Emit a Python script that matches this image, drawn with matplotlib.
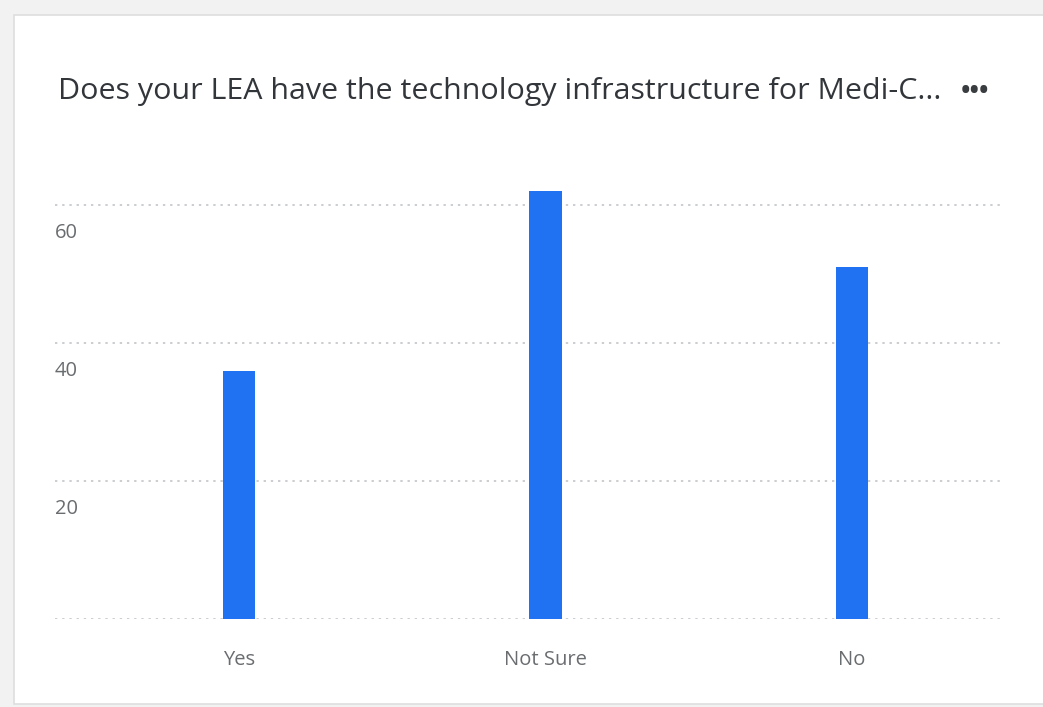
import matplotlib.pyplot as plt
from matplotlib.patches import Rectangle

# data
categories = ["Yes", "Not Sure", "No"]
counts = [36, 62, 51]
y_ticks = [20, 40, 60]
title = "Does your LEA have the technology infrastructure for Medi-C..."

W, H = 1043, 707
plt.rcParams['font.family'] = ['Open Sans', 'DejaVu Sans']

fig = plt.figure(figsize=(W / 100, H / 100), dpi=100)
fig.patch.set_facecolor("#f2f2f2")

# white card with thin border (drawn below the axes)
card = Rectangle((14 / W, 3 / H), 1.0, 1 - 18 / H, transform=fig.transFigure,
                 facecolor="white", edgecolor="#dedede", linewidth=1.2, zorder=-5)
fig.patches.append(card)

px_per_unit = 6.9
ymax = 66
ax_left, ax_right = 55 / W, 1000 / W
ax_bottom = 1 - 619 / H
ax_h = ymax * px_per_unit / H
ax = fig.add_axes([ax_left, ax_bottom, ax_right - ax_left, ax_h])
ax.set_facecolor("none")

x = list(range(len(categories)))
ax.bar(x, counts, width=0.105, color="#2072f3", zorder=3)

ax.set_xlim(-0.600, 2.483)
ax.set_ylim(0, ymax)

# dotted gridlines incl. baseline
for v in [0] + y_ticks:
    ax.axhline(v, color="#cbcdd0", linewidth=1.4, linestyle=(0, (1.2, 2.5)), zorder=1)

for s in ax.spines.values():
    s.set_visible(False)
ax.set_yticks([])
ax.set_xticks(x)
ax.set_xticklabels(categories, fontsize=14.5, color="#6a6d70")
ax.tick_params(axis="x", length=0, pad=22)

# y labels sit just under their gridline
for v in y_ticks:
    ax.annotate(str(v), xy=(0, v), xycoords=("axes fraction", "data"),
                xytext=(0, -13), textcoords="offset points",
                ha="left", va="top", fontsize=14.5, color="#6a6d70",
                annotation_clip=False)

fig.text(58 / W, 1 - 99 / H, title, fontsize=21.9, color="#32363a",
         ha="left", va="baseline")
fig.text(989 / W, 1 - 98 / H, "•••", fontsize=18, color="#3a3d40",
         ha="right", va="baseline", fontweight="bold")

fig.savefig("out.png", dpi=100)
